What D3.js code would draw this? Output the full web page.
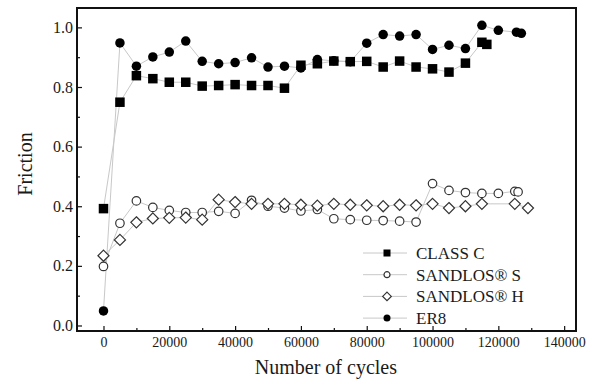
<!DOCTYPE html>
<html>
<head>
<meta charset="utf-8">
<script src="https://cdn.jsdelivr.net/npm/d3@7"></script>
<style>
  body { margin: 0; background: #fff; }
  svg text { font-family: "Liberation Serif", "Times New Roman", serif !important; fill: #1a1a1a; }
</style>
</head>
<body>
<div id="chart"></div>
<script>
// data
var classC_x = [0, 5000, 10000, 15000, 20000, 25000, 30000, 35000, 40000, 45000, 50000, 55000, 60000, 65000,
  70000, 75000, 80000, 85000, 90000, 95000, 100000, 105000, 110000, 115000, 116500]
var classC_y = [0.392, 0.749, 0.838, 0.828, 0.816, 0.816, 0.803, 0.805, 0.808, 0.805, 0.805, 0.796, 0.873, 0.878,
  0.887, 0.885, 0.886, 0.867, 0.887, 0.867, 0.861, 0.850, 0.880, 0.950, 0.943]

var sandS_x = [0, 5000, 10000, 15000, 20000, 25000, 30000, 35000, 40000, 45000, 50000, 55000, 60000, 65000,
  70000, 75000, 80000, 85000, 90000, 95000, 100000, 105000, 110000, 115000, 120000, 125000, 126000]
var sandS_y = [0.198, 0.343, 0.418, 0.396, 0.386, 0.379, 0.379, 0.383, 0.376, 0.420, 0.400, 0.394, 0.384, 0.389,
  0.358, 0.355, 0.353, 0.352, 0.350, 0.347, 0.476, 0.453, 0.446, 0.443, 0.443, 0.450, 0.448]

var sandH_x = [0, 5000, 10000, 15000, 20000, 25000, 30000, 35000, 40000, 45000, 50000, 55000, 60000, 65000,
  70000, 75000, 80000, 85000, 90000, 95000, 100000, 105000, 110000, 115000, 125000, 129000]
var sandH_y = [0.234, 0.287, 0.346, 0.359, 0.361, 0.362, 0.355, 0.422, 0.414, 0.408, 0.408, 0.408, 0.405, 0.402,
  0.408, 0.405, 0.403, 0.400, 0.405, 0.403, 0.408, 0.394, 0.400, 0.408, 0.408, 0.394]

var er8_x = [0, 5000, 10000, 15000, 20000, 25000, 30000, 35000, 40000, 45000, 50000, 55000, 60000, 65000,
  70000, 75000, 80000, 85000, 90000, 95000, 100000, 105000, 110000, 115000, 120000, 125500, 127000]
var er8_y = [0.049, 0.948, 0.870, 0.901, 0.917, 0.954, 0.886, 0.878, 0.882, 0.898, 0.867, 0.870, 0.864, 0.892,
  0.888, 0.885, 0.947, 0.976, 0.971, 0.976, 0.926, 0.940, 0.929, 1.007, 0.990, 0.984, 0.980]

var seriesNames = ["CLASS C", "SANDLOS\u00ae S", "SANDLOS\u00ae H", "ER8"]
var seriesShapes = ["square", "openCircle", "openDiamond", "circle"]
var xTicks = [0, 20000, 40000, 60000, 80000, 100000, 120000, 140000]
var yTicks = [0.0, 0.2, 0.4, 0.6, 0.8, 1.0]

var series = [
  {name: seriesNames[0], shape: seriesShapes[0], xs: classC_x, ys: classC_y},
  {name: seriesNames[1], shape: seriesShapes[1], xs: sandS_x, ys: sandS_y},
  {name: seriesNames[2], shape: seriesShapes[2], xs: sandH_x, ys: sandH_y},
  {name: seriesNames[3], shape: seriesShapes[3], xs: er8_x, ys: er8_y}
].map(function(s) {
  return {name: s.name, shape: s.shape, values: s.xs.map(function(v, i) { return {x: v, y: s.ys[i]} })}
})

var serif = '"Liberation Serif", "Times New Roman", serif'
var w = 600, h = 380
var margin = {top: 8, right: 24, bottom: 49, left: 77}
var width = w - margin.left - margin.right
var height = h - margin.top - margin.bottom

var svg = d3.select('#chart').append('svg')
    .attr('width', w)
    .attr('height', h)
var g = svg.append('g')
    .attr('transform', 'translate(' + margin.left + ',' + margin.top + ')')

var x = d3.scaleLinear().domain([-8050, 143600]).range([0, width])
var y = d3.scaleLinear().domain([-0.0185, 1.065]).range([height, 0])

// minor ticks
g.append('g')
    .attr('transform', 'translate(0,' + height + ')')
    .call(d3.axisBottom(x).tickValues(d3.range(10000, 140000, 20000)).tickSize(-3).tickFormat(''))
g.append('g')
    .call(d3.axisLeft(y).tickValues(d3.range(0.1, 1.0, 0.2)).tickSize(-3).tickFormat(''))

var xAxis = g.append('g')
    .attr('class', 'axis')
    .attr('transform', 'translate(0,' + height + ')')
    .call(d3.axisBottom(x).tickValues(xTicks).tickSize(-5).tickPadding(6).tickFormat(d3.format('d')))
xAxis.attr('font-family', serif)
xAxis.selectAll('text').style('font-family', serif).style('font-size', '14px').attr('fill', '#1a1a1a')

var yAxis = g.append('g')
    .attr('class', 'axis')
    .call(d3.axisLeft(y).tickValues(yTicks).tickSize(-5).tickPadding(4).tickFormat(d3.format('.1f')))
yAxis.attr('font-family', serif)
yAxis.selectAll('text').style('font-family', serif).style('font-size', '16px').attr('fill', '#1a1a1a')

g.selectAll('.domain').remove()
g.selectAll('.tick line').attr('stroke', '#111').attr('stroke-width', 1.2)

var line = d3.line()
    .x(function(d) { return x(d.x) })
    .y(function(d) { return y(d.y) })

g.selectAll('.serLine')
  .data(series)
  .enter().append('path')
    .attr('class', 'serLine')
    .attr('d', function(d) { return line(d.values) })
    .attr('fill', 'none')
    .attr('stroke', '#c8c8c8')
    .attr('stroke-width', 1)

function drawMarker(sel, shape, size) {
  if (shape == 'square') {
    sel.append('rect').attr('x', -size / 2).attr('y', -size / 2).attr('width', size).attr('height', size)
      .attr('fill', '#000')
  } else if (shape == 'circle') {
    sel.append('circle').attr('r', size / 2).attr('fill', '#000')
  } else if (shape == 'openCircle') {
    sel.append('circle').attr('r', size / 2 - 0.5).attr('fill', '#fff').attr('stroke', '#333').attr('stroke-width', 1.2)
  } else {
    var r = size / 2 + 0.8
    sel.append('path').attr('d', 'M0,' + (-r) + 'L' + r + ',0L0,' + r + 'L' + (-r) + ',0Z')
      .attr('fill', '#fff').attr('stroke', '#333').attr('stroke-width', 1.2)
  }
}

series.forEach(function(s) {
  g.append('g').selectAll('g')
    .data(s.values)
    .enter().append('g')
      .attr('transform', function(d) { return 'translate(' + x(d.x) + ',' + y(d.y) + ')' })
      .each(function() { drawMarker(d3.select(this), s.shape, 9.5) })
})

// frame
g.append('rect')
    .attr('width', width)
    .attr('height', height)
    .attr('fill', 'none')
    .attr('stroke', '#111')
    .attr('stroke-width', 2)

// legend
var legend = g.selectAll('.legend')
  .data(series)
  .enter().append('g')
    .attr('class', 'legend')
    .attr('transform', function(d, i) { return 'translate(' + (286) + ',' + (245 + i * 21.7) + ')' })
legend.append('line')
    .attr('x1', 0).attr('x2', 44)
    .attr('stroke', '#c8c8c8')
    .attr('stroke-width', 1)
legend.each(function(d) {
  var m = d3.select(this).append('g').attr('transform', 'translate(24,0)')
  drawMarker(m, d.shape, 7)
})
legend.append('text')
    .attr('x', 53)
    .attr('dy', '0.35em')
    .style('font-size', '17px')
    .text(function(d) { return d.name })

// axis titles
svg.append('text')
    .attr('x', margin.left + x(60000) + 25)
    .attr('y', 374)
    .attr('text-anchor', 'middle')
    .style('font-size', '20px')
    .text('Number of cycles')
svg.append('text')
    .attr('transform', 'translate(32,164) rotate(-90)')
    .attr('text-anchor', 'middle')
    .style('font-size', '20px')
    .text('Friction')
</script>
</body>
</html>
